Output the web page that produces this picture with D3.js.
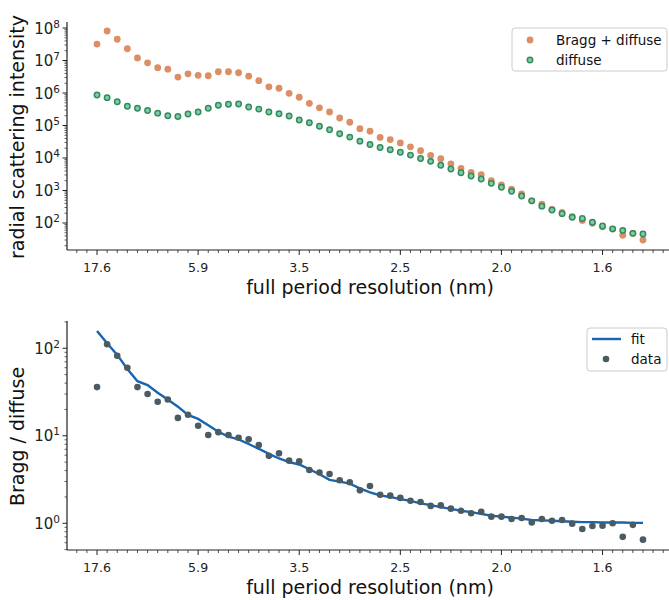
<!DOCTYPE html>
<html>
<head>
<meta charset="utf-8">
<script src="https://cdn.jsdelivr.net/npm/d3@7/dist/d3.min.js"></script>
<style>
  body { margin: 0; background: #fff; }
  svg { font-family: "DejaVu Sans", sans-serif; }
</style>
</head>
<body>
<svg id="chart" width="669" height="600"></svg>
<script>
// resolution bins (evenly spaced in q), tick labels every 10 bins
var tickIdx = [0, 10, 20, 30, 40, 50];
var tickLabels = ["17.6", "5.9", "3.5", "2.5", "2.0", "1.6"];

var braggDiffuse = [3.2e7, 8.1e7, 4.5e7, 2.3e7, 1.2e7, 8.5e6, 6.0e6, 5.4e6, 3.1e6, 3.9e6,
  3.5e6, 3.4e6, 4.5e6, 4.5e6, 4.2e6, 3.3e6, 2.4e6, 1.55e6, 1.4e6, 9.8e5,
  7.4e5, 4.8e5, 3.5e5, 2.6e5, 1.7e5, 1.26e5, 8.0e4, 6.7e4, 4.3e4, 3.7e4,
  2.9e4, 2.2e4, 1.67e4, 1.2e4, 9.5e3, 6.6e3, 4.8e3, 3.6e3, 3.1e3, 2.0e3,
  1.48e3, 1.1e3, 780, 480, 380, 260, 210, 156, 120, 98,
  76, 65, 42, 48, 30];

var diffuse = [8.7e5, 7.2e5, 5.4e5, 3.9e5, 3.4e5, 2.9e5, 2.4e5, 2.0e5, 1.9e5, 2.25e5,
  2.6e5, 3.4e5, 4.2e5, 4.5e5, 4.6e5, 3.7e5, 3.2e5, 2.6e5, 2.3e5, 1.95e5,
  1.48e5, 1.22e5, 9.5e4, 7.4e4, 5.6e4, 4.4e4, 3.3e4, 2.6e4, 2.1e4, 1.8e4,
  1.5e4, 1.23e4, 9.7e3, 7.9e3, 6.0e3, 4.6e3, 3.5e3, 2.8e3, 2.25e3, 1.66e3,
  1.26e3, 950, 680, 480, 330, 250, 194, 150, 138, 105,
  81, 66, 59, 48, 46];

var ratio = [36, 111, 82, 60, 36, 30, 24.5, 26, 16, 17.4,
  13, 10.2, 11, 10.2, 9.5, 9.1, 7.85, 5.9, 6.3, 5.2,
  5.1, 4.07, 3.8, 3.66, 3.1, 2.94, 2.38, 2.67, 2.12, 2.07,
  1.95, 1.81, 1.75, 1.58, 1.6, 1.47, 1.39, 1.30, 1.35, 1.19,
  1.19, 1.12, 1.15, 1.02, 1.12, 1.07, 1.09, 0.99, 0.86, 0.93,
  0.94, 1.0, 0.70, 0.96, 0.65];

var fit = [158, 114, 84, 58, 42, 38, 31, 26, 21.5, 17.3,
  15.6, 13.2, 11.1, 9.8, 9.1, 8.05, 7.1, 6.2, 5.5, 5.0,
  4.7, 4.14, 3.63, 3.13, 2.99, 2.84, 2.51, 2.26, 2.08, 2.0,
  1.89, 1.80, 1.69, 1.61, 1.53, 1.46, 1.39, 1.34, 1.28, 1.22,
  1.19, 1.16, 1.13, 1.09, 1.08, 1.07, 1.055, 1.04, 1.03, 1.03,
  1.02, 1.02, 1.02, 1.01, 1.01];

var svg = d3.select("#chart");

var x = d3.scaleLinear().domain([-2.97, 56.97]).range([67, 673]);

function drawAxes(g, y, yTop, yBot, decades, yLabel, xLabelY) {
    // x axis
    var minor = d3.range(-2, 57).filter(function (i) { return i % 10 !== 0; });
    g.append("line").attr("x1", 67).attr("x2", 673).attr("y1", yBot).attr("y2", yBot)
        .attr("stroke", "#222").attr("stroke-width", 1.2);
    g.selectAll(".xmin").data(minor).enter().append("line")
        .attr("x1", function (d) { return x(d); }).attr("x2", function (d) { return x(d); })
        .attr("y1", yBot).attr("y2", yBot + 3)
        .attr("stroke", "#222").attr("stroke-width", 0.8);
    g.selectAll(".xmaj").data(tickIdx).enter().append("line")
        .attr("x1", function (d) { return x(d); }).attr("x2", function (d) { return x(d); })
        .attr("y1", yBot).attr("y2", yBot + 5)
        .attr("stroke", "#222").attr("stroke-width", 1);
    g.selectAll(".xlab").data(tickIdx).enter().append("text")
        .attr("x", function (d) { return x(d); }).attr("y", yBot + 22)
        .attr("text-anchor", "middle").attr("font-size", 12.6).attr("fill", "#222")
        .text(function (d, i) { return tickLabels[i]; });
    g.append("text").attr("x", 370).attr("y", xLabelY)
        .attr("text-anchor", "middle").attr("font-size", 19).attr("fill", "#111")
        .text("full period resolution (nm)");

    // y axis (log)
    g.append("line").attr("x1", 67).attr("x2", 67).attr("y1", yTop).attr("y2", yBot)
        .attr("stroke", "#222").attr("stroke-width", 1.2);
    var dom = y.domain();
    var minorY = [];
    for (var e = Math.floor(Math.log10(dom[0])); e <= Math.ceil(Math.log10(dom[1])); e++) {
        for (var m = 2; m < 10; m++) {
            var v = m * Math.pow(10, e);
            if (v >= dom[0] && v <= dom[1]) minorY.push(v);
        }
    }
    g.selectAll(".ymin").data(minorY).enter().append("line")
        .attr("x1", 67).attr("x2", 64.5)
        .attr("y1", function (d) { return y(d); }).attr("y2", function (d) { return y(d); })
        .attr("stroke", "#222").attr("stroke-width", 0.7);
    g.selectAll(".ymaj").data(decades).enter().append("line")
        .attr("x1", 67).attr("x2", 62.5)
        .attr("y1", function (d) { return y(Math.pow(10, d)); })
        .attr("y2", function (d) { return y(Math.pow(10, d)); })
        .attr("stroke", "#222").attr("stroke-width", 1);
    var lab = g.selectAll(".ylab").data(decades).enter().append("text")
        .attr("x", 60).attr("y", function (d) { return y(Math.pow(10, d)) + 5.5; })
        .attr("text-anchor", "end").attr("font-size", 15).attr("fill", "#222");
    lab.append("tspan").text("10");
    lab.append("tspan").attr("font-size", 10.5).attr("dy", -6).text(function (d) { return d; });

    g.append("text")
        .attr("transform", "translate(24," + ((yTop + yBot) / 2 + 1) + ") rotate(-90)")
        .attr("text-anchor", "middle").attr("font-size", 19).attr("fill", "#111")
        .text(yLabel);
}

// ---- top panel
var yTop = d3.scaleLog().domain([14.76, 1.53e8]).range([250, 22]);
var g1 = svg.append("g");
drawAxes(g1, yTop, 22, 250, [2, 3, 4, 5, 6, 7, 8], "radial scattering intensity", 294);

g1.selectAll(".bd").data(braggDiffuse).enter().append("circle")
    .attr("cx", function (d, i) { return x(i); })
    .attr("cy", function (d) { return yTop(d); })
    .attr("r", 3.4).attr("fill", "#dc8e64");
g1.selectAll(".df").data(diffuse).enter().append("circle")
    .attr("cx", function (d, i) { return x(i); })
    .attr("cy", function (d) { return yTop(d); })
    .attr("r", 2.7).attr("fill", "#86c9a6")
    .attr("stroke", "#2f8d5e").attr("stroke-width", 1.5);

var leg1 = g1.append("g");
leg1.append("rect").attr("x", 512).attr("y", 28).attr("width", 155).attr("height", 43)
    .attr("rx", 3).attr("fill", "#fff").attr("fill-opacity", 0.8)
    .attr("stroke", "#ccc").attr("stroke-width", 1);
leg1.append("circle").attr("cx", 530).attr("cy", 40).attr("r", 3.4).attr("fill", "#dc8e64");
leg1.append("circle").attr("cx", 530).attr("cy", 60).attr("r", 2.7).attr("fill", "#86c9a6")
    .attr("stroke", "#2f8d5e").attr("stroke-width", 1.5);
leg1.append("text").attr("x", 556).attr("y", 44.5).attr("font-size", 13.5).attr("fill", "#111").text("Bragg + diffuse");
leg1.append("text").attr("x", 556).attr("y", 64.5).attr("font-size", 13.5).attr("fill", "#111").text("diffuse");

// ---- bottom panel
var yBot = d3.scaleLog().domain([0.495, 205]).range([550, 321]);
var g2 = svg.append("g");
drawAxes(g2, yBot, 321, 550, [0, 1, 2], "Bragg / diffuse", 594);

var line = d3.line()
    .x(function (d, i) { return x(i); })
    .y(function (d) { return yBot(d); });
g2.append("path").datum(fit).attr("d", line)
    .attr("fill", "none").attr("stroke", "#1764b2").attr("stroke-width", 2.4);
g2.selectAll(".rt").data(ratio).enter().append("circle")
    .attr("cx", function (d, i) { return x(i); })
    .attr("cy", function (d) { return yBot(d); })
    .attr("r", 3.3).attr("fill", "#4b5b62");

var leg2 = g2.append("g");
leg2.append("rect").attr("x", 587).attr("y", 328).attr("width", 80).attr("height", 43)
    .attr("rx", 3).attr("fill", "#fff").attr("fill-opacity", 0.8)
    .attr("stroke", "#ccc").attr("stroke-width", 1);
leg2.append("line").attr("x1", 592).attr("x2", 621).attr("y1", 339).attr("y2", 339)
    .attr("stroke", "#1764b2").attr("stroke-width", 2.4);
leg2.append("circle").attr("cx", 606).attr("cy", 359).attr("r", 3.3).attr("fill", "#4b5b62");
leg2.append("text").attr("x", 631).attr("y", 343.5).attr("font-size", 13.5).attr("fill", "#111").text("fit");
leg2.append("text").attr("x", 631).attr("y", 363.5).attr("font-size", 13.5).attr("fill", "#111").text("data");
</script>
</body>
</html>
